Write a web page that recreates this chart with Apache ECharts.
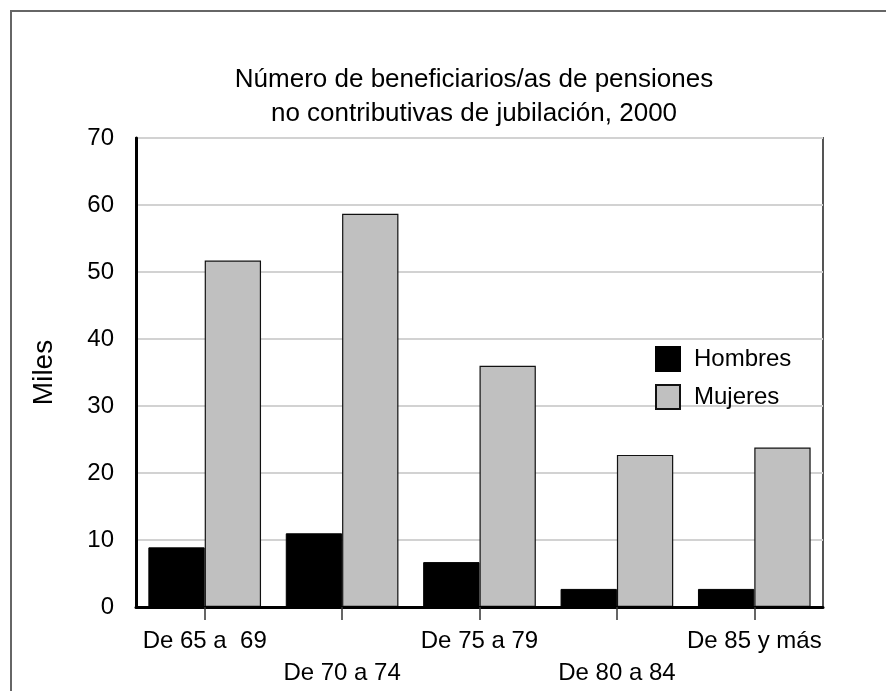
<!DOCTYPE html>
<html>
<head>
<meta charset="utf-8">
<script src="https://cdn.jsdelivr.net/npm/echarts@6/dist/echarts.min.js"></script>
<style>
  html, body { margin: 0; padding: 0; background: #fff; }
  #chart { width: 886px; height: 691px; }
</style>
</head>
<body>
<div id="chart"></div>
<script>
// Age groups and beneficiaries (thousands) by sex
const categories = ['De 65 a  69', 'De 70 a 74', 'De 75 a 79', 'De 80 a 84', 'De 85 y más'];
const hombres = [8.9, 11.0, 6.7, 2.7, 2.7];
const mujeres = [51.7, 58.7, 36.0, 22.7, 23.8];
const yTicks = [0, 10, 20, 30, 40, 50, 60, 70];

const FONT = '"Liberation Sans", Arial, sans-serif';

const chart = echarts.init(document.getElementById('chart'), null, { renderer: 'canvas' });

chart.setOption({
  animation: false,
  backgroundColor: '#fff',
  textStyle: { fontFamily: FONT, color: '#000' },
  graphic: [{
    type: 'rect',
    shape: { x: 11, y: 11, width: 900, height: 700 },
    style: { fill: 'none', stroke: '#666', lineWidth: 2 },
    silent: true,
    z: 0
  }],
  title: {
    text: 'Número de beneficiarios/as de pensiones\nno contributivas de jubilación, 2000',
    left: 469,
    top: 58,
    textAlign: 'center',
    textStyle: { fontFamily: FONT, fontSize: 26, fontWeight: 'normal', color: '#000', lineHeight: 34 }
  },
  legend: {
    orient: 'vertical',
    left: 650,
    top: 341,
    itemWidth: 24,
    itemHeight: 24,
    itemGap: 12,
    icon: 'rect',
    textStyle: { fontFamily: FONT, fontSize: 24, color: '#000', lineHeight: 24, padding: [0, 0, 0, 9] },
    data: ['Hombres', 'Mujeres']
  },
  grid: {
    left: 136, top: 138, width: 687, height: 469,
    show: true, borderColor: '#555', borderWidth: 2, backgroundColor: 'transparent'
  },
  xAxis: {
    type: 'category',
    data: categories,
    boundaryGap: true,
    axisLine: { lineStyle: { color: '#000', width: 3 } },
    axisTick: { show: true, alignWithLabel: true, length: 13, lineStyle: { color: '#333', width: 1.5 } },
    axisLabel: {
      interval: 0,
      margin: 18,
      fontFamily: FONT,
      fontSize: 24,
      color: '#000',
      lineHeight: 32,
      formatter: (v, i) => (i % 2 ? '\n' + v : v)
    },
    z: 5
  },
  yAxis: {
    type: 'value',
    min: yTicks[0],
    max: yTicks[yTicks.length - 1],
    interval: 10,
    name: 'Miles',
    nameLocation: 'middle',
    nameRotate: 90,
    nameGap: 78,
    nameTextStyle: { fontFamily: FONT, fontSize: 28, color: '#000' },
    axisLine: { show: true, lineStyle: { color: '#000', width: 3 } },
    axisTick: { show: false },
    axisLabel: { margin: 22, fontFamily: FONT, fontSize: 24, color: '#000' },
    splitLine: { lineStyle: { color: '#d2d2d2', width: 2 } }
  },
  series: [
    {
      name: 'Hombres',
      type: 'bar',
      data: hombres,
      barGap: '0%',
      barCategoryGap: '18%',
      itemStyle: { color: '#000', borderColor: '#000', borderWidth: 1 }
    },
    {
      name: 'Mujeres',
      type: 'bar',
      data: mujeres,
      barGap: '0%',
      barCategoryGap: '18%',
      itemStyle: { color: '#c0c0c0', borderColor: '#111', borderWidth: 1.2 }
    }
  ]
});
</script>
</body>
</html>
